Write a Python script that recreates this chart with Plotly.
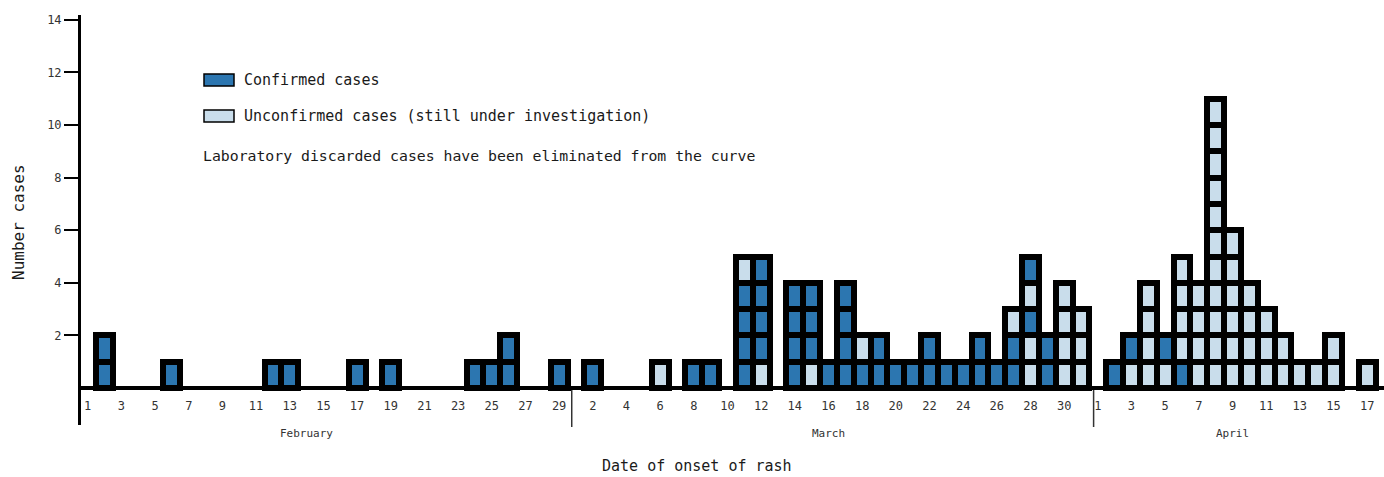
import plotly.graph_objects as go
from datetime import date, datetime, timedelta

# ---------------- data ----------------
# each stack lists the cases of one day from bottom to top: C = confirmed, U = unconfirmed
onset_dates = [
    "2020-02-02", "2020-02-06", "2020-02-12", "2020-02-13", "2020-02-17", "2020-02-19",
    "2020-02-24", "2020-02-25", "2020-02-26", "2020-02-29",
    "2020-03-02", "2020-03-06", "2020-03-08", "2020-03-09", "2020-03-11", "2020-03-12",
    "2020-03-14", "2020-03-15", "2020-03-16", "2020-03-17", "2020-03-18", "2020-03-19",
    "2020-03-20", "2020-03-21", "2020-03-22", "2020-03-23", "2020-03-24", "2020-03-25",
    "2020-03-26", "2020-03-27", "2020-03-28", "2020-03-29", "2020-03-30", "2020-03-31",
    "2020-04-02", "2020-04-03", "2020-04-04", "2020-04-05", "2020-04-06", "2020-04-07",
    "2020-04-08", "2020-04-09", "2020-04-10", "2020-04-11", "2020-04-12", "2020-04-13",
    "2020-04-14", "2020-04-15", "2020-04-17",
]
case_stacks = [
    "CC", "C", "C", "C", "C", "C",
    "C", "C", "CC", "C",
    "C", "U", "C", "C", "CCCCU", "UCCCC",
    "CCCC", "UCCC", "C", "CCCC", "CU", "CC",
    "C", "C", "CC", "C", "C", "CC",
    "C", "CCU", "UUCUC", "CC", "UUUU", "UUU",
    "C", "UC", "UUUU", "UC", "CUUUU", "UUUU",
    "UUUUUUUUUUU", "UUUUUU", "UUUU", "UUU", "UU", "U",
    "U", "UU", "U",
]
category_labels = {"C": "Confirmed cases", "U": "Unconfirmed cases (still under investigation)"}
note_text = "Laboratory discarded cases have been eliminated from the curve"
first_day = "2020-02-01"
last_day = "2020-04-17"
month_names = ["February", "March", "April"]
month_starts = ["2020-02-01", "2020-03-01", "2020-04-01"]
month_label_dates = ["2020-02-14", "2020-03-16", "2020-04-09"]
y_ticks = [2, 4, 6, 8, 10, 12, 14]

# ---------------- style ----------------
COLORS = {"C": "#2c76b0", "U": "#c9ddeb"}
FONT = "DejaVu Sans Mono"
TXT = "#1a1a1a"
TICK_TXT = "#333333"
W, H = 1384, 477
L, R, T, B = 81, 1384, 15, 425
UNIT_PX = 26.3
ZERO_PX = 388


def paper_x(px):
    return (px - L) / (R - L)


def paper_y(py):
    return (B - py) / (B - T)


def dt_str(d, frac_days):
    base = datetime.combine(d, datetime.min.time())
    return (base + timedelta(days=frac_days)).strftime("%Y-%m-%d %H:%M:%S")


d0 = date.fromisoformat(first_day)
d1 = date.fromisoformat(last_day)
day_ms = 86400000

fig = go.Figure()

max_h = max(len(s) for s in case_stacks)
for level in range(max_h):
    xs, cols = [], []
    for d, s in zip(onset_dates, case_stacks):
        if len(s) > level:
            xs.append(d)
            cols.append(COLORS[s[level]])
    fig.add_trace(go.Bar(
        x=xs, y=[1] * len(xs), base=[level] * len(xs),
        width=day_ms,
        marker=dict(color=cols, line=dict(color="black", width=6)),
        showlegend=False, hoverinfo="x",
    ))

# ticks every two days
tick_days = []
d = d0
while d <= d1:
    tick_days.append(d)
    d += timedelta(days=2)

ymax = (ZERO_PX - T) / UNIT_PX
ymin = -(B - ZERO_PX) / UNIT_PX

fig.update_layout(
    width=W, height=H,
    margin=dict(l=L, r=W - R, t=T, b=H - B),
    paper_bgcolor="white", plot_bgcolor="white",
    barmode="overlay", bargap=0,
    font=dict(family=FONT, color=TXT),
    showlegend=False,
    xaxis=dict(
        type="date",
        range=[dt_str(d0, -0.4), dt_str(d0, 77.0)],
        tickvals=[t.isoformat() for t in tick_days],
        ticktext=[str(t.day) for t in tick_days],
        tickfont=dict(size=12, color=TICK_TXT, family=FONT),
        ticks="", ticklabelstandoff=6,
        showgrid=False, zeroline=False,
        showline=True, linecolor="black", linewidth=4,
        anchor="free", position=(0 - ymin) / (ymax - ymin),
        layer="above traces",
    ),
    yaxis=dict(
        range=[ymin, ymax],
        tickvals=y_ticks,
        tickfont=dict(size=12, color=TICK_TXT, family=FONT),
        ticks="outside", ticklen=14, tickwidth=2, tickcolor="black",
        showgrid=False, zeroline=False,
        showline=True, linecolor="black", linewidth=3,
    ),
)

# month separators and labels
for ms in month_starts[1:]:
    xd = dt_str(date.fromisoformat(ms), -0.25)
    fig.add_shape(type="line", xref="x", yref="paper", x0=xd, x1=xd,
                  y0=paper_y(427), y1=paper_y(390), line=dict(color="#333", width=1.5))
for name, md in zip(month_names, month_label_dates):
    fig.add_annotation(x=md, xref="x", y=paper_y(433), yref="paper", text=name,
                       showarrow=False, font=dict(size=11, color=TICK_TXT, family=FONT),
                       xanchor="center", yanchor="middle")

# axis titles
fig.add_annotation(x=paper_x(697), xref="paper", y=paper_y(466), yref="paper",
                   text="Date of onset of rash", showarrow=False,
                   font=dict(size=15, color=TXT, family=FONT), xanchor="center", yanchor="middle")
fig.add_annotation(x=paper_x(18), xref="paper", y=paper_y(222), yref="paper",
                   text="Number cases", textangle=-90, showarrow=False,
                   font=dict(size=16, color=TXT, family=FONT), xanchor="center", yanchor="middle")

# legend
for i, key in enumerate(["C", "U"]):
    cy = 80 + i * 36
    fig.add_shape(type="rect", xref="paper", yref="paper",
                  x0=paper_x(204), x1=paper_x(234), y0=paper_y(cy - 6), y1=paper_y(cy + 6),
                  fillcolor=COLORS[key], line=dict(color="black", width=1.5))
    fig.add_annotation(x=paper_x(242), xref="paper", y=paper_y(cy), yref="paper",
                       text=category_labels[key], showarrow=False,
                       font=dict(size=15, color=TXT, family=FONT), xanchor="left", yanchor="middle")
fig.add_annotation(x=paper_x(201), xref="paper", y=paper_y(155), yref="paper",
                   text=note_text, showarrow=False,
                   font=dict(size=14.8, color=TXT, family=FONT), xanchor="left", yanchor="middle")

fig.write_html("out.html", config={"displayModeBar": False},
               post_script="document.body.style.margin='0';")
